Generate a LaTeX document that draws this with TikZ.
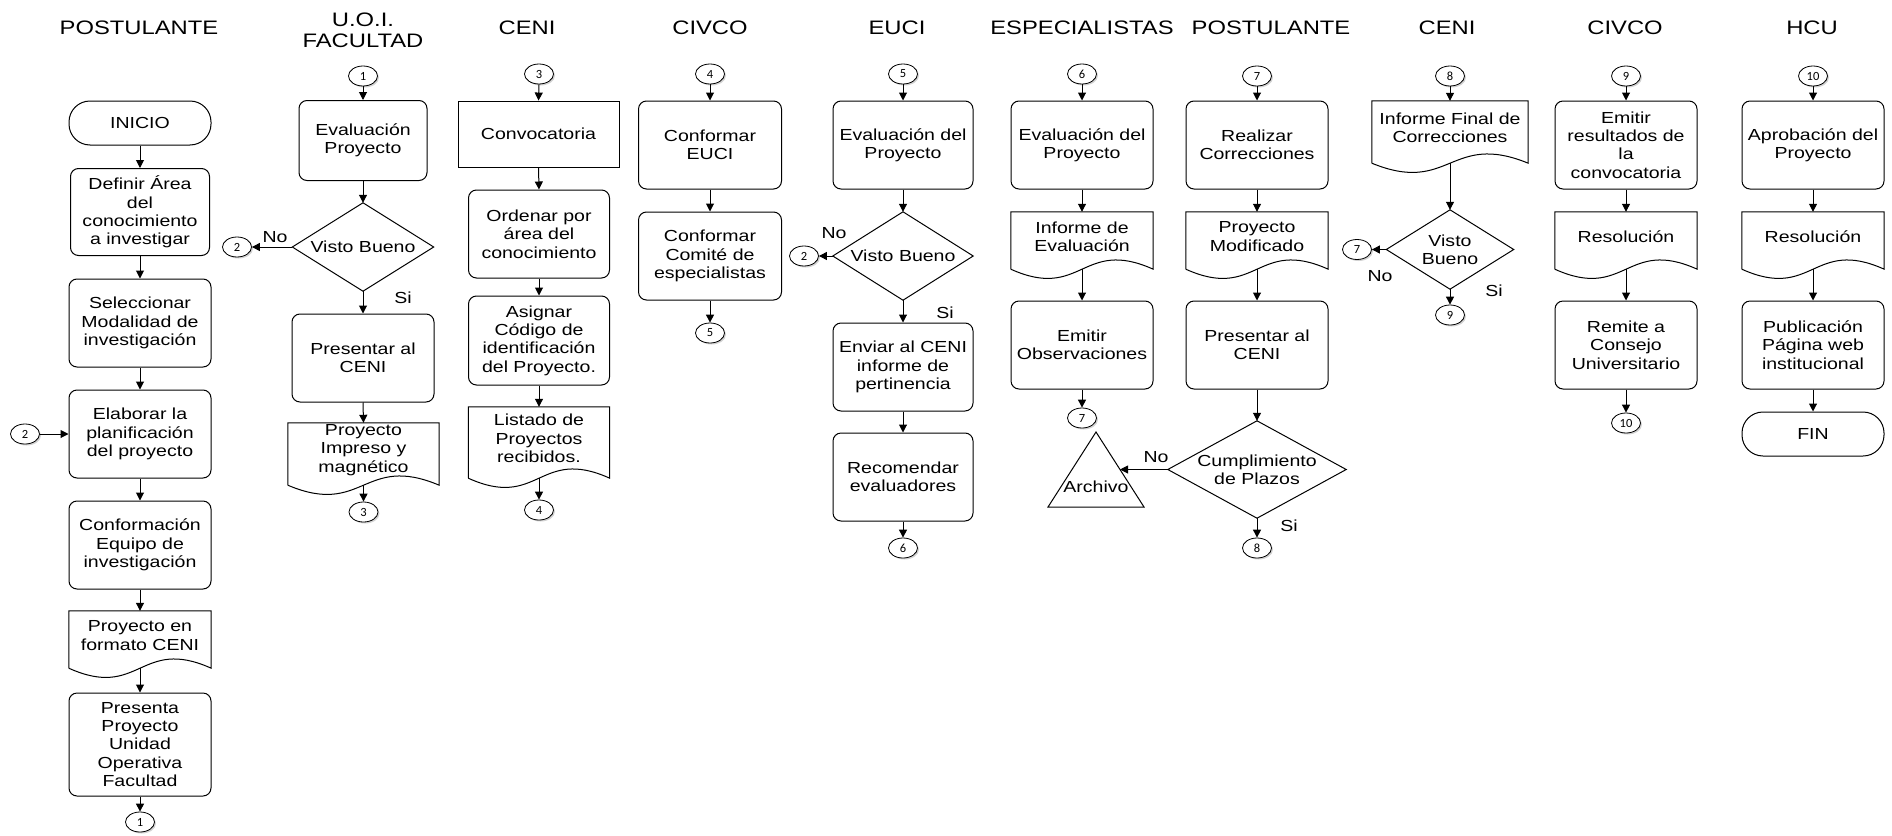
\documentclass[tikz,border=0pt]{standalone}
\usepackage{fontspec}
\setmainfont{Liberation Sans}[FakeStretch=1.22]
\newfontfamily\cnfont{Carlito}
\usetikzlibrary{arrows.meta,shapes.geometric,shadows,calc}
\tikzset{
  every node/.style={font=\fontsize{16pt}{18.4pt}\selectfont},
  box/.style={draw, line width=1pt, rounded corners=8pt, minimum width=142pt, minimum height=88pt, align=center, inner sep=1pt},
  sqbox/.style={draw, line width=0.9pt, minimum width=161pt, minimum height=66pt, align=center, inner sep=1pt},
  term/.style={draw, line width=1pt, rounded corners=21pt, minimum width=142pt, minimum height=44pt, inner sep=1pt},
  docn/.style={minimum width=142pt, minimum height=49pt, align=center, inner sep=1pt},
  decn/.style={minimum width=141pt, minimum height=88pt, align=center, inner sep=0pt},
  conn/.style={ellipse, draw, line width=0.8pt, fill=white, minimum width=29pt, minimum height=20pt, inner sep=0pt,
    font=\cnfont\fontsize{12.5pt}{12.5pt}\selectfont,
    drop shadow={shadow xshift=1.5pt, shadow yshift=-1.5pt, fill=black!35}},
  ttl/.style={font=\fontsize{19.5pt}{21pt}\selectfont, align=center},
  lbl/.style={font=\fontsize{16pt}{18pt}\selectfont},
  arr/.style={line width=1pt, -{Triangle[length=8pt,width=8pt]}},
  outl/.style={draw, line width=1pt},
}
% document shape: sides run 8pt below the text node; coordinate <name>-b is the wave's middle
\newcommand\mkdoc[1]{%
  \coordinate (#1-b) at ($(#1.south)+(0pt,-8pt)$);
  \coordinate (#1-bl) at ($(#1.south west)+(0pt,-8pt)$);
  \coordinate (#1-br) at ($(#1.south east)+(0pt,-8pt)$);
  \draw[outl] (#1-bl) -- (#1.north west) -- (#1.north east) -- (#1-br)
  .. controls ($(#1-b)+(0pt,32pt)$) and ($(#1-b)+(0pt,-32pt)$) .. (#1-bl);}
\newcommand\mkdiam[1]{\draw[outl] (#1.north) -- (#1.east) -- (#1.south) -- (#1.west) -- cycle;}
\begin{document}
\begin{tikzpicture}[x=1pt,y=-1pt]
\useasboundingbox (0,0) rectangle (1892,835);
% titles
\node[ttl] (tP1) at (139,28) {POSTULANTE};
\node[ttl] (tUOI) at (363,30) {U.O.I.\\FACULTAD};
\node[ttl] (tC1) at (527,28) {CENI};
\node[ttl] (tCV1) at (710,28) {CIVCO};
\node[ttl] (tE) at (897,28) {EUCI};
\node[ttl] (tES) at (1082,28) {ESPECIALISTAS};
\node[ttl] (tP2) at (1271,28) {POSTULANTE};
\node[ttl] (tC2) at (1447,28) {CENI};
\node[ttl] (tCV2) at (1625,28) {CIVCO};
\node[ttl] (tH) at (1812,28) {HCU};
% column 1
\node[term] (inicio) at (140,123) {INICIO};
\node[box, minimum width=139pt, minimum height=87pt] (definir) at (140,212) {Definir Área\\del\\conocimiento\\a investigar};
\node[box] (selec) at (140,323) {Seleccionar\\Modalidad de\\investigación};
\node[box] (elab) at (140,434) {Elaborar la\\planificación\\del proyecto};
\node[box] (confo) at (140,545) {Conformación\\Equipo de\\investigación};
\node[docn] (doc1) at (140,635.5) {Proyecto en\\formato CENI};
\mkdoc{doc1}
\node[box, minimum height=103pt] (presenta) at (140,744.5) {Presenta\\Proyecto\\Unidad\\Operativa\\Facultad};
\node[conn] (k1a) at (140,822) {1};
\node[conn] (k2a) at (25,434) {2};
\draw[arr] (inicio.south) -- (definir.north);
\draw[arr] (definir.south) -- (selec.north);
\draw[arr] (selec.south) -- (elab.north);
\draw[arr] (elab.south) -- (confo.north);
\draw[arr] (confo.south) -- (doc1.north);
\draw[arr] (doc1-b) -- (presenta.north);
\draw[arr] (presenta.south) -- (k1a.north);
\draw[arr] (k2a.east) -- (elab.west);
% column 2
\node[conn] (k1b) at (363,76) {1};
\node[box, minimum width=128pt, minimum height=80pt] (evalp) at (363,140.5) {Evaluación\\Proyecto};
\node[decn] (vb1) at (363,247) {Visto Bueno};
\mkdiam{vb1}
\node[conn] (k2b) at (237,247) {2};
\node[lbl] (no1) at (275,237) {No};
\node[lbl] (si1) at (403,298) {Si};
\node[box] (pres1) at (363,358) {Presentar al\\CENI};
\node[docn, minimum width=151pt, minimum height=54pt] (doc2) at (363.5,450) {Proyecto\\Impreso y\\magnético};
\mkdoc{doc2}
\node[conn] (k3a) at (363.5,512) {3};
\draw[arr] (k1b.south) -- (evalp.north);
\draw[arr] (evalp.south) -- (vb1.north);
\draw[arr] (vb1.west) -- (k2b.east);
\draw[arr] (vb1.south) -- (pres1.north);
\draw[arr] (pres1.south) -- (doc2.north);
\draw[arr] (doc2-b) -- (k3a.north);
% column 3
\node[conn] (k3b) at (539,74) {3};
\node[sqbox] (convoc) at (538.5,134) {Convocatoria};
\node[box, minimum width=141pt] (orden) at (539,234) {Ordenar por\\área del\\conocimiento};
\node[box, minimum width=141pt, minimum height=89pt] (asig) at (539,340.5) {Asignar\\Código de\\identificación\\del Proyecto.};
\node[docn, minimum width=141pt, minimum height=63pt] (doc3) at (539,438.5) {Listado de\\Proyectos\\recibidos.};
\mkdoc{doc3}
\node[conn] (k4a) at (539,510) {4};
\draw[arr] (k3b.south) -- (convoc.north);
\draw[arr] (convoc.south) -- (orden.north);
\draw[arr] (orden.south) -- (asig.north);
\draw[arr] (asig.south) -- (doc3.north);
\draw[arr] (doc3-b) -- (k4a.north);
% column 4
\node[conn] (k4b) at (710,74) {4};
\node[box, minimum width=143pt] (confeuci) at (710,145) {Conformar\\EUCI};
\node[box, minimum width=143pt] (confcom) at (710,256) {Conformar\\Comité de\\especialistas};
\node[conn] (k5a) at (710,333) {5};
\draw[arr] (k4b.south) -- (confeuci.north);
\draw[arr] (confeuci.south) -- (confcom.north);
\draw[arr] (confcom.south) -- (k5a.north);
% column 5
\node[conn] (k5b) at (903,74) {5};
\node[box, minimum width=140pt] (evald) at (903,145) {Evaluación del\\Proyecto};
\node[decn, minimum width=140pt] (vb2) at (903,256) {Visto Bueno};
\mkdiam{vb2}
\node[conn] (k2c) at (804,256) {2};
\node[lbl] (no2) at (834,233) {No};
\node[lbl] (si2) at (945,313) {Si};
\node[box, minimum width=140pt] (enviar) at (903,367) {Enviar al CENI\\informe de\\pertinencia};
\node[box, minimum width=140pt] (recom) at (903,477) {Recomendar\\evaluadores};
\node[conn] (k6a) at (903,548) {6};
\draw[arr] (k5b.south) -- (evald.north);
\draw[arr] (evald.south) -- (vb2.north);
\draw[arr] (vb2.west) -- (k2c.east);
\draw[arr] (vb2.south) -- (enviar.north);
\draw[arr] (enviar.south) -- (recom.north);
\draw[arr] (recom.south) -- (k6a.north);
% column 6
\node[conn] (k6b) at (1082,74) {6};
\node[box] (evale) at (1082,145) {Evaluación del\\Proyecto};
\node[docn] (doc4) at (1082,236.5) {Informe de\\Evaluación};
\mkdoc{doc4}
\node[box] (emitir) at (1082,345) {Emitir\\Observaciones};
\node[conn] (k7a) at (1082,418) {7};
\node (arch) at (1096,487) {Archivo};
\draw[outl] ($(arch)+(0pt,55pt)$) -- ($(arch)+(48pt,-20pt)$) -- ($(arch)+(-48pt,-20pt)$) -- cycle;
\coordinate (archR) at ($(arch)+(24pt,17.5pt)$);
\draw[arr] (k6b.south) -- (evale.north);
\draw[arr] (evale.south) -- (doc4.north);
\draw[arr] (doc4-b) -- (emitir.north);
\draw[arr] (emitir.south) -- (k7a.north);
% column 7
\node[conn] (k7b) at (1257,76) {7};
\node[box] (realiz) at (1257,145) {Realizar\\Correcciones};
\node[docn] (doc5) at (1257,236.5) {Proyecto\\Modificado};
\mkdoc{doc5}
\node[box] (pres2) at (1257,345) {Presentar al\\CENI};
\node[decn, minimum width=178pt, minimum height=97pt] (cump) at (1257,469.5) {Cumplimiento\\de Plazos};
\mkdiam{cump}
\node[lbl] (no3) at (1156,457) {No};
\node[lbl] (si3) at (1289,526) {Si};
\node[conn] (k8a) at (1257,548) {8};
\draw[arr] (k7b.south) -- (realiz.north);
\draw[arr] (realiz.south) -- (doc5.north);
\draw[arr] (doc5-b) -- (pres2.north);
\draw[arr] (pres2.south) -- (cump.north);
\draw[arr] (cump.west) -- (archR);
\draw[arr] (cump.south) -- (k8a.north);
% column 8
\node[conn] (k8b) at (1450,76) {8};
\node[docn, minimum width=156pt, minimum height=54pt] (doc6) at (1450,128) {Informe Final de\\Correcciones};
\mkdoc{doc6}
\node[decn, minimum width=127pt, minimum height=79pt] (vb3) at (1450,249.5) {Visto\\Bueno};
\mkdiam{vb3}
\node[conn] (k7c) at (1357,249.5) {7};
\node[lbl] (no4) at (1380,276) {No};
\node[lbl] (si4) at (1494,291) {Si};
\node[conn] (k9a) at (1450,315) {9};
\draw[arr] (k8b.south) -- (doc6.north);
\draw[arr] (doc6-b) -- (vb3.north);
\draw[arr] (vb3.west) -- (k7c.east);
\draw[arr] (vb3.south) -- (k9a.north);
% column 9
\node[conn] (k9b) at (1626,76) {9};
\node[box] (emres) at (1626,145) {Emitir\\resultados de\\la\\convocatoria};
\node[docn] (doc7) at (1626,236.5) {Resolución};
\mkdoc{doc7}
\node[box] (remite) at (1626,345) {Remite a\\Consejo\\Universitario};
\node[conn] (k10a) at (1626,423) {10};
\draw[arr] (k9b.south) -- (emres.north);
\draw[arr] (emres.south) -- (doc7.north);
\draw[arr] (doc7-b) -- (remite.north);
\draw[arr] (remite.south) -- (k10a.north);
% column 10
\node[conn] (k10b) at (1813,76) {10};
\node[box] (aprob) at (1813,145) {Aprobación del\\Proyecto};
\node[docn] (doc8) at (1813,236.5) {Resolución};
\mkdoc{doc8}
\node[box] (public) at (1813,345) {Publicación\\Página web\\institucional};
\node[term] (fin) at (1813,434) {FIN};
\draw[arr] (k10b.south) -- (aprob.north);
\draw[arr] (aprob.south) -- (doc8.north);
\draw[arr] (doc8-b) -- (public.north);
\draw[arr] (public.south) -- (fin.north);
\end{tikzpicture}
\end{document}
